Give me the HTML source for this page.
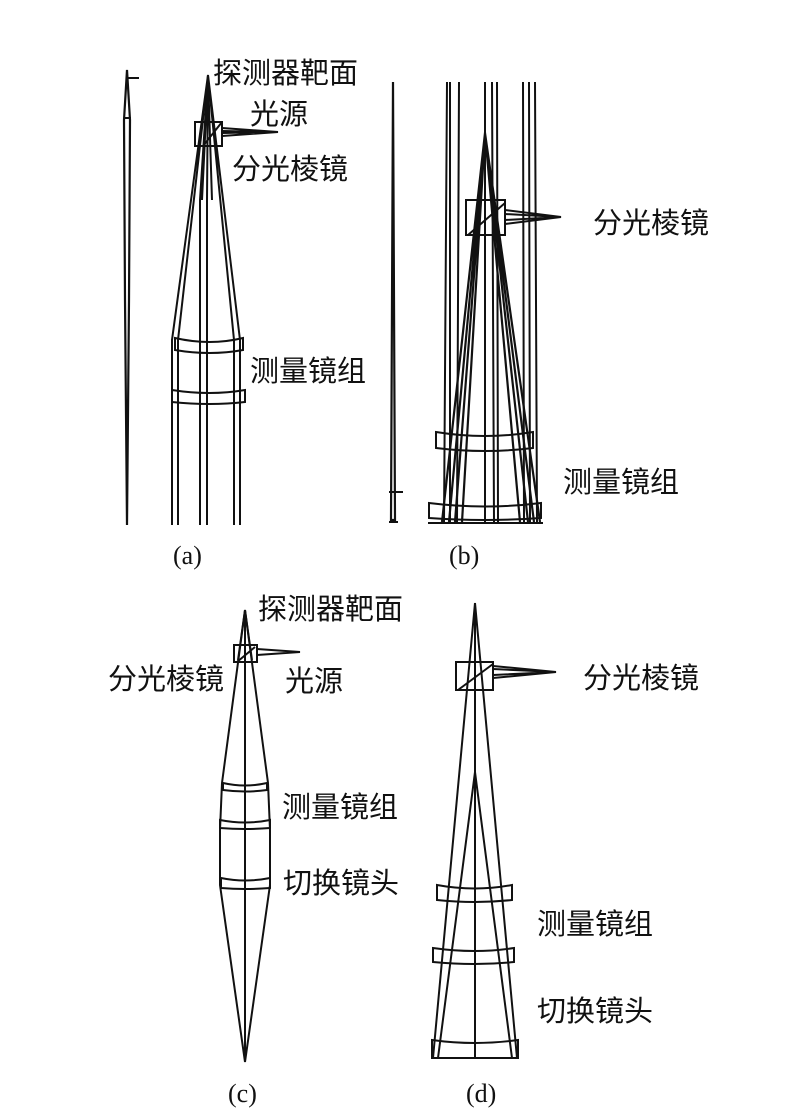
<!DOCTYPE html>
<html><head><meta charset="utf-8"><style>
html,body{margin:0;padding:0;background:#fff;}
svg{display:block}
text{font-family:"Liberation Serif","Noto Serif CJK SC","Noto Sans CJK SC",serif;font-size:26px;fill:#111}
.t text{font-family:"Liberation Sans","Noto Sans CJK SC",sans-serif;font-size:29px}
</style></head><body>
<svg width="800" height="1119" viewBox="0 0 800 1119" xmlns="http://www.w3.org/2000/svg">
<g fill="none" stroke="#111" stroke-width="2">
<!-- (a) left thin spindle -->
<path d="M127,70 L124,120 L125,300 L127,525 L129,300 L130,120 Z" stroke-width="2.2"/>
<line x1="124" y1="118" x2="131" y2="118"/>
<line x1="127" y1="78" x2="139" y2="78"/>
<!-- (a) main -->
<rect x="195" y="122" width="27" height="24"/>
<line x1="203" y1="146" x2="222" y2="122"/>
<path d="M208,75 L172,340 L172,525 M208,75 L178,340 L178,525 M208,75 L240,340 L240,525 M208,75 L234,340 L234,525"/>
<path d="M208,75 L200,200 L200,525 M208,75 L207,200 L207,525 M208,75 L202,200 M208,75 L212,200"/>
<path d="M222,128 L278,132 L222,136 M222,131 L278,132 L222,133"/>
<path d="M175,338 Q210,346 243,338 L243,350 Q210,356 175,350 Z"/>
<path d="M172,390 Q210,396 245,390 L245,402 Q210,406 172,402 Z"/>
<!-- (b) -->
<path d="M393,82 L391,520 L395,520 Z" stroke-width="2.2"/>
<line x1="389" y1="522" x2="398" y2="522"/>
<line x1="389" y1="492" x2="403" y2="492"/>
<path d="M447,82 L444,522 M450,82 L450,522 M459,82 L457,522 M485,82 L485,522 M492,82 L494,522 M497,82 L498,522 M523,82 L524,522 M529,82 L530,522 M535,82 L537,522"/>
<path d="M485,133 L442,522 M485,133 L449,522 M485,133 L455,522 M485,133 L462,522 M485,133 L528,522 M485,133 L534,522 M485,133 L540,522 M485,133 L520,522" stroke-width="2.2"/>
<rect x="466" y="200" width="39" height="35"/>
<line x1="468" y1="235" x2="505" y2="203"/>
<path d="M505,210 L561,217 L505,224 M505,214 L561,217 L505,220"/>
<path d="M436,432 Q485,440 533,432 L533,448 Q485,454 436,448 Z"/>
<path d="M429,503 Q485,510 541,503 L541,518 Q485,522 429,518 Z"/>
<line x1="428" y1="523" x2="543" y2="523"/>
<!-- (c) -->
<line x1="245" y1="610" x2="245" y2="1062"/>
<path d="M245,610 L222,783 L220,830 L220,885 L245,1062 L270,885 L270,830 L268,783 Z"/>
<path d="M245,610 L238,660 M245,610 L252,660"/>
<rect x="234" y="645" width="23" height="17"/>
<line x1="237" y1="662" x2="255" y2="647"/>
<path d="M257,649 L300,652 L257,655"/>
<path d="M223,783 Q245,788 267,783 L267,790 Q245,793 223,790 Z"/>
<path d="M220,820 Q245,825 270,820 L270,828 Q245,830 220,828 Z"/>
<path d="M221,878 Q245,883 270,878 L270,888 Q245,890 221,888 Z"/>
<!-- (d) -->
<line x1="475" y1="603" x2="475" y2="1058"/>
<path d="M475,603 L433,1058 M475,603 L517,1058"/>
<path d="M475,772 L438,1058 M475,772 L512,1058"/>
<rect x="456" y="662" width="37" height="28"/>
<line x1="458" y1="690" x2="493" y2="664"/>
<path d="M493,666 L556,672 L493,678 M493,669 L556,672 L493,675"/>
<path d="M437,885 Q475,892 512,885 L512,900 Q475,904 437,900 Z"/>
<path d="M433,948 Q475,954 514,948 L514,962 Q475,966 433,962 Z"/>
<path d="M432,1040 Q475,1046 518,1040 L518,1058 L432,1058 Z"/>
</g>
<g class="t">
<text x="213" y="83">探测器靶面</text>
<text x="250" y="124">光源</text>
<text x="232" y="179">分光棱镜</text>
<text x="250" y="381">测量镜组</text>
<text x="593" y="233">分光棱镜</text>
<text x="563" y="492">测量镜组</text>
<text x="258" y="619">探测器靶面</text>
<text x="108" y="689">分光棱镜</text>
<text x="285" y="691">光源</text>
<text x="282" y="817">测量镜组</text>
<text x="283" y="893">切换镜头</text>
<text x="583" y="688">分光棱镜</text>
<text x="537" y="934">测量镜组</text>
<text x="537" y="1021">切换镜头</text>
</g>
<text x="173" y="564">(a)</text>
<text x="449" y="564">(b)</text>
<text x="228" y="1102">(c)</text>
<text x="466" y="1102">(d)</text>
</svg>
</body></html>
